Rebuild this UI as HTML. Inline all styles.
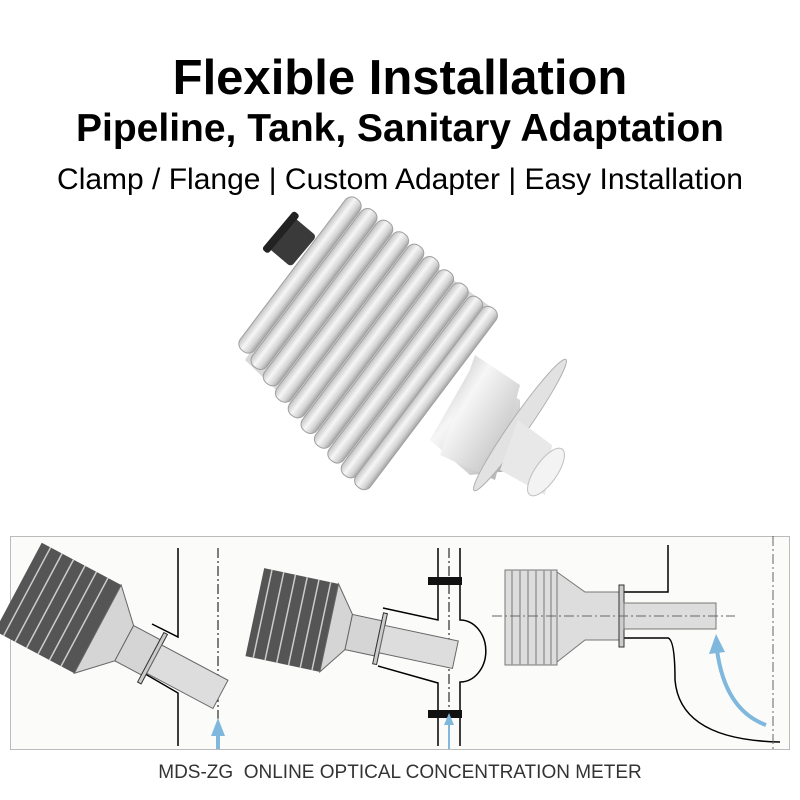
<!DOCTYPE html>
<html><head><meta charset="utf-8"><style>
html,body{margin:0;padding:0;background:#fff;}
body{width:800px;height:800px;position:relative;overflow:hidden;font-family:"Liberation Sans",sans-serif;}
.t{position:absolute;left:0;width:800px;text-align:center;color:#000;white-space:nowrap;}
</style></head><body>
<div class="t" style="top:50px;font-size:49px;font-weight:bold;">Flexible Installation</div>
<div class="t" style="top:107px;font-size:39px;font-weight:bold;">Pipeline, Tank, Sanitary Adaptation</div>
<div class="t" style="top:163px;font-size:30px;">Clamp / Flange | Custom Adapter | Easy Installation</div>
<div class="t" style="top:762px;font-size:19px;color:#333;">MDS-ZG&nbsp; ONLINE OPTICAL CONCENTRATION METER</div>
<svg width="800" height="800" style="position:absolute;left:0;top:0" xmlns="http://www.w3.org/2000/svg">
<defs>
<linearGradient id="m" x1="0" y1="0" x2="1" y2="0">
<stop offset="0" stop-color="#c4c4c4"/><stop offset="0.4" stop-color="#f6f6f6"/><stop offset="0.75" stop-color="#d4d4d4"/><stop offset="1" stop-color="#a4a4a4"/></linearGradient>
<linearGradient id="t" x1="0" y1="0" x2="1" y2="1">
<stop offset="0" stop-color="#b0b0b0"/><stop offset="0.35" stop-color="#f6f6f6"/><stop offset="0.7" stop-color="#d0d0d0"/><stop offset="1" stop-color="#9a9a9a"/></linearGradient>
</defs>
<!-- product -->
<g transform="translate(290,240) rotate(40)"><rect x="-12" y="-20" width="30" height="40" rx="4" fill="#3a3a3a"/><rect x="-16" y="-25" width="8" height="50" rx="3" fill="#222"/></g>
<polygon points="470,370 520,400 520,470 470,475 430,440" fill="url(#t)"/>
<polygon points="350,205 495,310 370,480 245,360" fill="#d8d8d8"/>
<g stroke="#a0a0a0" stroke-width="1" fill="url(#m)">
<g transform="translate(300,275) rotate(37)"><rect x="-9" y="-95" width="18" height="190" rx="8"/></g>
<g transform="translate(314,289) rotate(37)"><rect x="-9" y="-98" width="18" height="196" rx="8"/></g>
<g transform="translate(328,303) rotate(37)"><rect x="-9" y="-101" width="18" height="202" rx="8"/></g>
<g transform="translate(342,317) rotate(37)"><rect x="-9" y="-104" width="18" height="208" rx="8"/></g>
<g transform="translate(356,331) rotate(37)"><rect x="-9" y="-106" width="18" height="212" rx="8"/></g>
<g transform="translate(370,345) rotate(37)"><rect x="-9" y="-108" width="18" height="216" rx="8"/></g>
<g transform="translate(384,359) rotate(37)"><rect x="-9" y="-109" width="18" height="218" rx="8"/></g>
<g transform="translate(398,373) rotate(37)"><rect x="-9" y="-110" width="18" height="220" rx="8"/></g>
<g transform="translate(412,387) rotate(37)"><rect x="-9" y="-111" width="18" height="222" rx="8"/></g>
<g transform="translate(426,398) rotate(37)"><rect x="-9" y="-112" width="18" height="224" rx="8"/></g>
</g>
<polygon points="475,355 520,385 495,480 440,455" fill="url(#t)"/>
<ellipse cx="520" cy="425" rx="9" ry="80" transform="rotate(35 520 425)" fill="#e2e2e2" stroke="#b0b0b0"/>
<polygon points="518,420 552,445 545,495 500,470" fill="#e8e8e8"/>
<ellipse cx="546" cy="472" rx="11" ry="28" transform="rotate(35 546 472)" fill="#f3f3f3" stroke="#c0c0c0"/>
<!-- bottom panel -->
<rect x="10.5" y="536.5" width="779" height="213" fill="#fbfbfa" stroke="#bbb"/>
<g stroke="#000" stroke-width="1.5" fill="none">
<path d="M178,548 V637 L152,624 M178,746 V693 L135,668"/>
<path d="M218,548 V746" stroke-dasharray="10,3,2,3" stroke-width="1"/>
<path d="M438,548 V620 L383,608 M438,746 V683 L378,666"/>
<path d="M460,548 V620 a25,30 0 0 1 0,62 V746"/>
<path d="M449,548 V746" stroke-dasharray="10,3,2,3" stroke-width="1"/>
<path d="M668,545 V592 H622 M622,638 H668 Q675,640 675,680 Q680,740 780,742"/>
<path d="M773,536 V750" stroke-dasharray="10,3,2,3" stroke-width="1" stroke="#666"/>
</g>
<g fill="#111"><rect x="428" y="577" width="34" height="8"/><rect x="428" y="710" width="34" height="8"/></g>
<!-- sensor panel1 -->
<g transform="translate(58,608) rotate(28)"><rect x="-45" y="-50" width="90" height="100" fill="#555"/>
<g stroke="#ccc" stroke-width="1.5"><line x1="-35" y1="-50" x2="-35" y2="50"/><line x1="-22" y1="-50" x2="-22" y2="50"/><line x1="-9" y1="-50" x2="-9" y2="50"/><line x1="4" y1="-50" x2="4" y2="50"/><line x1="17" y1="-50" x2="17" y2="50"/><line x1="30" y1="-50" x2="30" y2="50"/></g>
<polygon points="45,-50 75,-20 75,20 45,50" fill="#d5d5d5" stroke="#666"/>
<rect x="75" y="-20" width="30" height="40" fill="#d5d5d5" stroke="#666"/><rect x="105" y="-28" width="4" height="56" fill="#ccc" stroke="#333"/><rect x="109" y="-16" width="75" height="32" fill="#ddd" stroke="#666"/></g>
<!-- panel2 -->
<g transform="translate(292,620) rotate(12)"><rect x="-38" y="-45" width="76" height="90" fill="#555"/>
<g stroke="#ccc" stroke-width="1.5"><line x1="-30" y1="-45" x2="-30" y2="45"/><line x1="-18" y1="-45" x2="-18" y2="45"/><line x1="-6" y1="-45" x2="-6" y2="45"/><line x1="6" y1="-45" x2="6" y2="45"/><line x1="18" y1="-45" x2="18" y2="45"/><line x1="30" y1="-45" x2="30" y2="45"/></g>
<polygon points="38,-45 58,-18 58,18 38,45" fill="#d5d5d5" stroke="#666"/>
<rect x="58" y="-18" width="30" height="36" fill="#d5d5d5" stroke="#666"/><rect x="88" y="-26" width="4" height="52" fill="#ccc" stroke="#333"/><rect x="92" y="-14" width="75" height="28" fill="#ddd" stroke="#666"/></g>
<!-- panel3 -->
<rect x="505" y="570" width="52" height="95" fill="#ddd" stroke="#777"/>
<g stroke="#999" stroke-width="1.5"><line x1="512" y1="570" x2="512" y2="665"/><line x1="520" y1="570" x2="520" y2="665"/><line x1="528" y1="570" x2="528" y2="665"/><line x1="536" y1="570" x2="536" y2="665"/><line x1="544" y1="570" x2="544" y2="665"/><line x1="551" y1="570" x2="551" y2="665"/></g>
<polygon points="557,572 585,592 620,592 620,640 585,640 557,662" fill="#ddd" stroke="#777"/>
<rect x="619" y="585" width="5" height="62" fill="#ccc" stroke="#333"/>
<rect x="624" y="603" width="92" height="26" fill="#ddd" stroke="#777"/>
<line x1="492" y1="616" x2="735" y2="616" stroke="#666" stroke-dasharray="10,3,2,3"/>
<!-- arrows -->
<g fill="#7fb8dc" stroke="#7fb8dc">
<path d="M218,749 V733" stroke-width="4"/><polygon points="211,736 225,736 218,718" stroke="none"/>
<path d="M449,749 V722" stroke-width="2"/><polygon points="444,725 454,725 449,713" stroke="none"/>
<path d="M766,725 Q725,710 717,650" stroke-width="4" fill="none"/><polygon points="709,654 725,652 716,634" stroke="none"/>
</g>
</svg>
</body></html>
